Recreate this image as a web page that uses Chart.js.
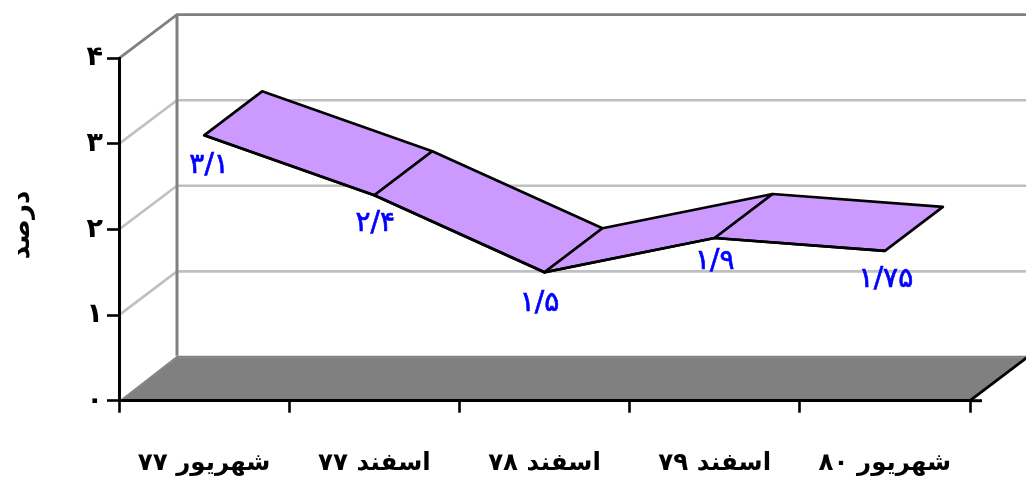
<!DOCTYPE html>
<html>
<head>
<meta charset="utf-8">
<script src="https://cdn.jsdelivr.net/npm/chart.js@4"></script>
<style>html,body{margin:0;padding:0;background:#fff}canvas{display:block}</style>
</head>
<body>
<canvas id="c" width="1026" height="477"></canvas>
<script>
const categories = ['شهریور ۷۷', 'اسفند ۷۷', 'اسفند ۷۸', 'اسفند ۷۹', 'شهریور ۸۰'];
const values = [3.1, 2.4, 1.5, 1.9, 1.75];
const pointLabels = ['۳/۱', '۲/۴', '۱/۵', '۱/۹', '۱/۷۵'];
const yTickLabels = ['۰', '۱', '۲', '۳', '۴'];
const axisTitle = 'درصد';

const FONT = '"DejaVu Sans"';
const DX = 58, DY = -43.7, FLOOR_DY = -45;
const labelShift = [[5, 30], [1, 28], [-5, 31], [0, 24], [1, 29]];

const depthPlugin = {
  id: 'depth',
  beforeDraw(chart) {
    const c = chart.ctx, y = chart.scales.y, a = chart.chartArea;
    const b = y.getPixelForValue(0), t = y.getPixelForValue(4);
    c.save();
    c.lineCap = 'butt';
    c.strokeStyle = '#c0c0c0'; c.lineWidth = 2.6;
    [1, 2, 3].forEach(v => {
      const p = y.getPixelForValue(v);
      c.beginPath(); c.moveTo(a.left, p); c.lineTo(a.left + DX, p + DY); c.lineTo(a.right + DX + 2, p + DY); c.stroke();
    });
    c.strokeStyle = '#808080'; c.lineWidth = 2.8;
    c.beginPath(); c.moveTo(a.left, t); c.lineTo(a.left + DX, t + DY); c.lineTo(a.right + DX + 2, t + DY); c.stroke();
    c.lineWidth = 3;
    c.beginPath(); c.moveTo(a.left + DX, t + DY); c.lineTo(a.left + DX, b + FLOOR_DY); c.stroke();
    c.fillStyle = '#808080';
    c.beginPath(); c.moveTo(a.left, b); c.lineTo(a.left + DX, b + FLOOR_DY); c.lineTo(a.right + DX + 2, b + FLOOR_DY); c.lineTo(a.right, b); c.closePath(); c.fill();
    c.strokeStyle = '#8c8c8c'; c.lineWidth = 1;
    c.beginPath(); c.moveTo(a.left + 3, b - 1); c.lineTo(a.left + DX, b + FLOOR_DY + 2); c.lineTo(a.right + DX + 2, b + FLOOR_DY + 2); c.stroke();
    c.strokeStyle = '#000'; c.lineWidth = 2.8;
    c.beginPath(); c.moveTo(a.right, b); c.lineTo(a.right + DX, b + FLOOR_DY + 1); c.stroke();
    c.lineWidth = 3;
    c.beginPath(); c.moveTo(a.right, b); c.lineTo(a.right + 12, b); c.stroke();
    c.restore();
  },
  beforeDatasetsDraw(chart) {
    const c = chart.ctx, x = chart.scales.x, y = chart.scales.y;
    c.save();
    c.fillStyle = '#cc99ff'; c.strokeStyle = '#000'; c.lineWidth = 2.6; c.lineJoin = 'round';
    for (let i = 0; i < values.length - 1; i++) {
      const x0 = x.getPixelForValue(i), x1 = x.getPixelForValue(i + 1);
      const y0 = y.getPixelForValue(values[i]), y1 = y.getPixelForValue(values[i + 1]);
      c.beginPath();
      c.moveTo(x0, y0); c.lineTo(x1, y1); c.lineTo(x1 + DX, y1 - 44); c.lineTo(x0 + DX, y0 - 44); c.closePath();
      c.fill(); c.stroke();
    }
    c.restore();
  },
  afterDatasetsDraw(chart) {
    const c = chart.ctx, x = chart.scales.x, y = chart.scales.y;
    c.save();
    c.fillStyle = '#0000ff'; c.strokeStyle = '#0000ff'; c.lineWidth = 0.7; c.font = '28px ' + FONT; c.textAlign = 'center'; c.textBaseline = 'middle';
    values.forEach((v, i) => {
      const px = x.getPixelForValue(i) + labelShift[i][0], py = y.getPixelForValue(v) + labelShift[i][1];
      c.fillText(pointLabels[i], px, py); c.strokeText(pointLabels[i], px, py);
    });
    c.restore();
  },
  afterDraw(chart) {
    const c = chart.ctx;
    c.save();
    c.translate(22, 225); c.rotate(-Math.PI / 2);
    c.fillStyle = '#000'; c.font = 'bold 26px ' + FONT; c.textAlign = 'center'; c.textBaseline = 'middle';
    c.fillText(axisTitle, 0, 0);
    c.restore();
  }
};

new Chart(document.getElementById('c'), {
  type: 'line',
  data: {
    labels: categories,
    datasets: [{ data: values, borderColor: '#000', borderWidth: 2.6, pointRadius: 0, tension: 0, fill: false, clip: false }]
  },
  options: {
    responsive: false,
    animation: false,
    layout: { padding: { left: 0, right: 56, top: 58.3, bottom: 0 } },
    plugins: { legend: { display: false }, tooltip: { enabled: false }, title: { display: false } },
    scales: {
      x: {
        type: 'category',
        offset: true,
        afterFit(s) { s.height = 76.3; },
        border: { color: '#000', width: 3 },
        grid: { offset: true, drawOnChartArea: false, drawTicks: true, tickLength: 12, tickColor: '#000', tickWidth: 2.6 },
        ticks: { color: '#000', font: { family: FONT, size: 24.5, weight: 'bold' }, padding: 36, maxRotation: 0, minRotation: 0, autoSkip: false }
      },
      y: {
        min: 0, max: 4,
        afterFit(s) { s.width = 119; },
        border: { color: '#000', width: 3 },
        grid: { drawOnChartArea: false, drawTicks: true, tickLength: 12, tickColor: '#000', tickWidth: 2.6 },
        ticks: { stepSize: 1, color: '#000', font: { family: FONT, size: 27, weight: 'bold' }, padding: 4, callback: v => yTickLabels[v] }
      }
    }
  },
  plugins: [depthPlugin]
});
</script>
</body>
</html>
